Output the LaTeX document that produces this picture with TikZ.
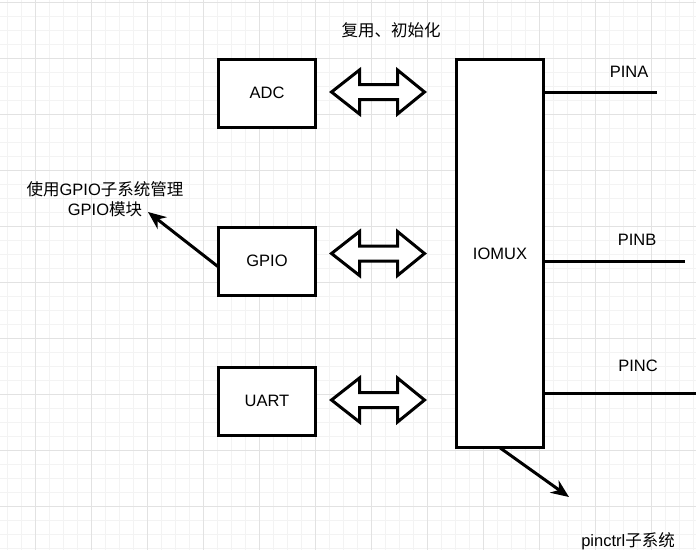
\documentclass[tikz,border=0pt]{standalone}
\usepackage{fontspec}
\setmainfont{Liberation Sans}
\newfontfamily\cjk{Noto Sans CJK SC}
\usepackage{tikz}
\usetikzlibrary{arrows.meta, positioning}

\definecolor{gridmajor}{HTML}{E2E2E2}
\definecolor{gridminor}{HTML}{F3F3F3}

\tikzset{
  block/.style={draw, line width=3pt, fill=white, minimum width=97pt, minimum height=68pt,
    font=\fontsize{16.5}{19}\selectfont},
  textlab/.style={font=\fontsize{16.5}{20}\selectfont},
  wire/.style={line width=3pt},
  pointer/.style={line width=3pt, -{Stealth[length=18pt,width=15pt]}},
  pics/bidir/.style={code={
    \draw[line width=3pt, fill=white] (0,0) -- (28,-22) -- (28,-7.5) -- (66,-7.5) -- (66,-22)
      -- (93,0) -- (66,22) -- (66,7.5) -- (28,7.5) -- (28,22) -- cycle;}},
}

\begin{document}
\begin{tikzpicture}[x=1pt,y=-1pt,inner sep=0pt,outer sep=0pt]
\useasboundingbox (0,0) rectangle (696,550);
\fill[white] (0,0) rectangle (696,550);
% grid
\foreach \gx in {7,21,...,693} \draw[gridminor,line width=1pt] (\gx,0) -- (\gx,550);
\foreach \gy in {2,16,...,548} \draw[gridminor,line width=1pt] (0,\gy) -- (696,\gy);
\foreach \gx in {35,91,...,651} \draw[gridmajor,line width=1pt] (\gx,0) -- (\gx,550);
\foreach \gy in {2,58,...,506} \draw[gridmajor,line width=1pt] (0,\gy) -- (696,\gy);

% blocks
\node[block] (adc) at (267,93) {ADC};
\node[block, below=100pt of adc] (gpio) {GPIO};
\node[block, below=72pt of gpio] (uart) {UART};
\node[block, minimum width=87pt, minimum height=388.6pt] (iomux) at (500,253.5) {IOMUX};

\node[textlab] (muxnote) at (391,30) {\cjk 复用、初始化};

% buses
\path (adc.east) ++(16,-1) pic {bidir};
\path (gpio.east |- iomux.center) ++(16,0) pic {bidir};
\path (uart.east) ++(16,-1) pic {bidir};

% pins
\coordinate (pina) at (657,92.5);
\coordinate (pinb) at (685,261);
\coordinate (pinc) at (696,393);
\draw[wire] (iomux.east |- pina) -- (pina);
\draw[wire] (iomux.east |- pinb) -- (pinb);
\draw[wire] (iomux.east |- pinc) -- (pinc);
\node[textlab] (pinalab) at (629,72) {PINA};
\node[textlab] (pinblab) at (637,240) {PINB};
\node[textlab] (pinclab) at (638,366) {PINC};

% notes
\node[textlab, align=center] (gpionote) at (105,199)
  {{\cjk 使用}GPIO{\cjk 子系统管理}\\GPIO{\cjk 模块}};
\coordinate (gpiotip) at (148,212);
\draw[pointer] ([yshift=-6pt]gpio.west) -- (gpiotip);

\node[textlab] (ctrlnote) at (628,541) {pinctrl{\cjk 子系统}};
\coordinate (ctrltip) at (569,497);
\draw[pointer] (iomux.south) -- (ctrltip);
\end{tikzpicture}
\end{document}
